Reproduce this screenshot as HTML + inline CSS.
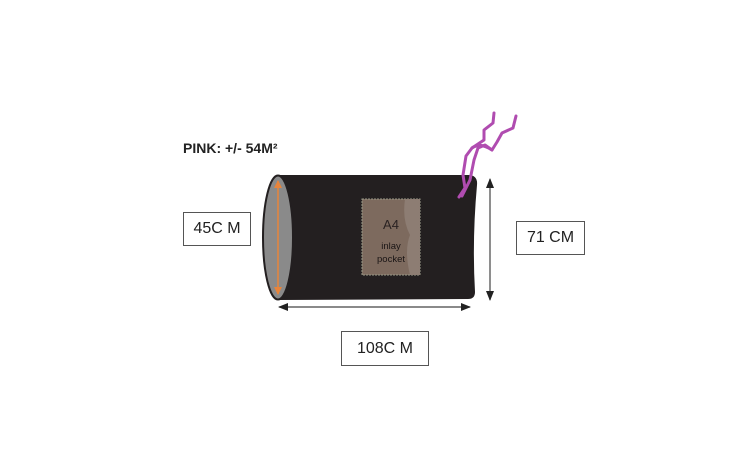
<!DOCTYPE html>
<html><head><style>
body{margin:0;background:#fff;}
.b{position:absolute;border:1.5px solid #555;background:#fff;font:16px "Liberation Sans",sans-serif;color:#222;display:flex;align-items:center;justify-content:center;box-sizing:border-box;}
</style></head><body>
<div style="position:relative;width:756px;height:454px;overflow:hidden">
<svg width="756" height="454" style="position:absolute;left:0;top:0">
<defs>
<marker id="a" markerWidth="10" markerHeight="10" refX="9" refY="5" orient="auto-start-reverse" markerUnits="userSpaceOnUse"><path d="M0,1 L10,5 L0,9z" fill="#222"/></marker>
<marker id="o" markerWidth="8" markerHeight="8" refX="7" refY="4" orient="auto-start-reverse" markerUnits="userSpaceOnUse"><path d="M0,0 L8,4 L0,8z" fill="#e8843a"/></marker>
</defs>
<path d="M278,175 L468,175 Q478,175 477,185 Q472,240 475,292 Q475,299 468,299 L278,300 Z" fill="#231f20"/>
<ellipse cx="278" cy="237.5" rx="15" ry="62" fill="#8a8a8a" stroke="#231f20" stroke-width="2"/>
<line x1="278" y1="181" x2="278" y2="294" stroke="#e8843a" stroke-width="1.5" marker-start="url(#o)" marker-end="url(#o)"/>
<rect x="362" y="199" width="58" height="76" fill="#7d6a5e" stroke="#998" stroke-dasharray="2,1"/>
<path d="M405,199 L420,199 L420,275 L410,275 Q404,250 410,235 Q402,220 405,199Z" fill="#8d7d73"/>
<text x="391" y="229" font-family="Liberation Sans,sans-serif" font-size="13" fill="#2a2222" text-anchor="middle">A4</text>
<text x="391" y="249" font-family="Liberation Sans,sans-serif" font-size="9.5" fill="#1a1515" text-anchor="middle">inlay</text>
<text x="391" y="262" font-family="Liberation Sans,sans-serif" font-size="9.5" fill="#1a1515" text-anchor="middle">pocket</text>
<line x1="279" y1="307" x2="470" y2="307" stroke="#444" stroke-width="1.2" marker-start="url(#a)" marker-end="url(#a)"/>
<line x1="490" y1="179" x2="490" y2="300" stroke="#444" stroke-width="1.2" marker-start="url(#a)" marker-end="url(#a)"/>
<g fill="none" stroke="#b04cb0" stroke-width="3" stroke-linecap="round" stroke-linejoin="round">
<path d="M494,113 L493,123 L484,130 L484,140 L472,148 L466,156 L463,175 L465,188 L459,197"/>
<path d="M516,116 L513,128 L502,133 L497,142 L492,150 L485,145 L478,148 L474,160 L470,180 L462,196"/>
<path d="M472,148 Q480,142 492,150"/>
</g>
<text x="183" y="153" font-family="Liberation Sans,sans-serif" font-weight="bold" font-size="14" fill="#222">PINK: +/- 54M²</text>
</svg>
<div class="b" style="left:183px;top:212px;width:68px;height:34px">45C M</div>
<div class="b" style="left:516px;top:221px;width:69px;height:34px">71 CM</div>
<div class="b" style="left:341px;top:331px;width:88px;height:35px">108C M</div>
</div>
</body></html>
